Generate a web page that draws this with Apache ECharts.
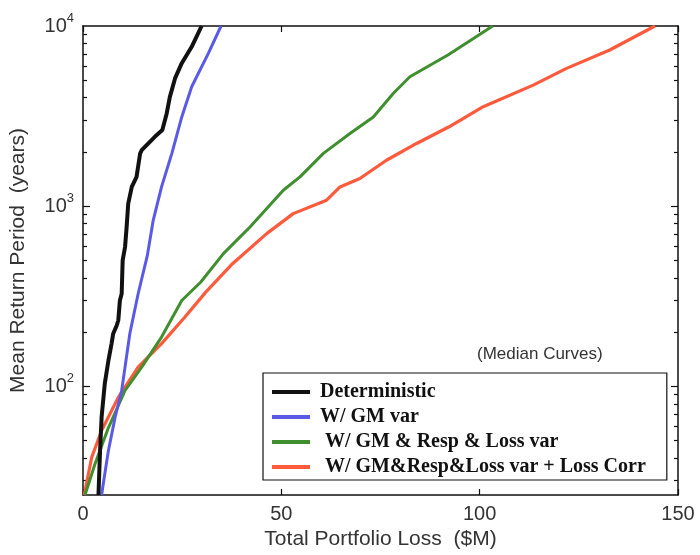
<!DOCTYPE html>
<html><head><meta charset="utf-8">
<script src="https://cdn.jsdelivr.net/npm/echarts@6/dist/echarts.min.js"></script>
<style>html,body{margin:0;padding:0;background:#fff}#c{width:700px;height:555px}</style>
</head><body><div id="c"></div>
<script>
// ---- data ----
const seriesNames = ['Deterministic', 'W/ GM var', ' W/ GM & Resp & Loss var', ' W/ GM&Resp&Loss var + Loss Corr'];

const detX = [3.9, 4.3, 4.7, 5.5, 6.4, 7.2, 7.6, 8.5, 8.9, 9.3, 9.75, 10.0, 10.6, 11.0, 11.4, 12.3, 13.5, 14.4, 14.8, 18.1, 20.0, 21.1, 21.9, 23.2, 24.9, 27.4, 29.9];
const detY = [25, 44, 68, 104, 139, 173, 196, 218, 233, 300, 327, 501, 594, 767, 1035, 1280, 1455, 1960, 2047, 2427, 2645, 3270, 4045, 5118, 6220, 7670, 10000];

const gmX = [4.7, 5.1, 6.4, 8.1, 9.75, 10.6, 11.8, 13.9, 16.2, 17.7, 19.8, 22.4, 24.9, 27.4, 31.6, 34.8];
const gmY = [25, 28.8, 44, 67.6, 95, 128, 196, 327, 530, 836, 1280, 1965, 3130, 4600, 7050, 10000];

const grlX = [0.5, 3.0, 6.4, 10.6, 14.8, 19.8, 24.9, 29.7, 35.4, 42.1, 50.5, 54.7, 60.6, 67.3, 73.2, 78.2, 82.4, 92.0, 103.3];
const grlY = [25, 37, 59, 95, 128, 188, 300, 380, 546, 767, 1227, 1455, 1965, 2535, 3130, 4225, 5225, 6900, 10000];

const corrX = [0.3, 2.2, 4.7, 8.9, 13.9, 19.8, 25.7, 31.0, 37.7, 46.3, 53.0, 61.4, 64.8, 69.8, 76.5, 84.1, 92.3, 100.9, 113.5, 121.9, 132.8, 144.2];
const corrY = [25, 40.5, 57, 87, 128, 173, 243, 335, 480, 705, 910, 1080, 1280, 1425, 1800, 2230, 2760, 3565, 4700, 5820, 7360, 10000];

const xTickLabels = [0, 50, 100, 150];
const yLabelValues = [100, 1000, 10000];
const yMajorTicks = [100, 1000];
const yMinorTicks = [30, 40, 50, 60, 70, 80, 90, 200, 300, 400, 500, 600, 700, 800, 900, 2000, 3000, 4000, 5000, 6000, 7000, 8000, 9000];

function pairs(xs, ys) { return xs.map((x, i) => [x, ys[i]]); }

const AX = '#111';
const LBL = '#333';
const sans = 'Liberation Sans';
const colors = ['#111111', '#5a5ae6', '#3f8f2f', '#ff5a3c'];

function xAxisCfg(pos, showLabel, nameCfg) {
  return Object.assign({
    type: 'value', min: 0, max: 150, interval: 50, position: pos,
    axisLine: { show: true, lineStyle: { color: AX, width: 1.5 } },
    axisTick: { show: true, inside: true, length: 6, lineStyle: { color: AX, width: 1.2 } },
    axisLabel: { show: showLabel, color: LBL, fontFamily: sans, fontSize: 20, margin: 9,
      customValues: xTickLabels },
    splitLine: { show: false }
  }, nameCfg || {});
}
function yAxisCfg(pos, ticks, len, showLine, showLabel, extra) {
  return Object.assign({
    type: 'log', logBase: 10, min: 25, max: 10000, position: pos,
    axisLine: { show: showLine, lineStyle: { color: AX, width: 1.5 } },
    axisTick: { show: true, inside: true, length: len, customValues: ticks, lineStyle: { color: AX, width: 1.2 } },
    axisLabel: { show: showLabel },
    splitLine: { show: false }, minorTick: { show: false }, minorSplitLine: { show: false }
  }, extra || {});
}

const option = {
  animation: false,
  backgroundColor: '#fff',
  grid: { left: 83, right: 22, top: 26, bottom: 60 },
  xAxis: [
    xAxisCfg('bottom', true, {
      name: 'Total Portfolio Loss  ($M)', nameLocation: 'middle', nameGap: 33,
      nameTextStyle: { color: LBL, fontFamily: sans, fontSize: 21 }
    }),
    xAxisCfg('top', false)
  ],
  yAxis: [
    yAxisCfg('left', yMajorTicks, 7, true, true, {
      axisLabel: {
        show: true, customValues: yLabelValues, margin: 9,
        formatter: v => '{b|10}{s|' + Math.round(Math.log10(v)) + '}',
        rich: {
          b: { fontFamily: sans, fontSize: 20, color: LBL },
          s: { fontFamily: sans, fontSize: 13, color: LBL, padding: [0, 0, 16, 0] }
        }
      },
      name: 'Mean Return Period  (years)', nameLocation: 'middle', nameGap: 54,
      nameTextStyle: { color: LBL, fontFamily: sans, fontSize: 21 }
    }),
    yAxisCfg('left', yMinorTicks, 4, false, false),
    yAxisCfg('right', yMajorTicks, 7, true, false),
    yAxisCfg('right', yMinorTicks, 4, false, false)
  ],
  legend: {
    orient: 'vertical', left: 263, top: 373,
    padding: [9, 21, 3, 9], itemGap: 5, itemWidth: 38, itemHeight: 4,
    borderColor: '#111', borderWidth: 1.2, backgroundColor: '#fff',
    textStyle: { fontFamily: 'Liberation Serif', fontWeight: 'bold', fontSize: 20, color: '#111', lineHeight: 20, padding: [0, 0, 0, 5] },
    data: seriesNames.map((n, i) => ({ name: n, icon: 'rect', itemStyle: { color: colors[i] } }))
  },
  graphic: [
    { type: 'text', left: 477, top: 346, style: { text: '(Median Curves)', font: '17px "Liberation Sans"', fill: LBL } }
  ],
  series: [
    { name: seriesNames[0], type: 'line', data: pairs(detX, detY), symbol: 'none', lineStyle: { color: colors[0], width: 4 }, itemStyle: { color: colors[0] }, z: 5 },
    { name: seriesNames[1], type: 'line', data: pairs(gmX, gmY), symbol: 'none', lineStyle: { color: colors[1], width: 3 }, itemStyle: { color: colors[1] }, z: 4 },
    { name: seriesNames[2], type: 'line', data: pairs(grlX, grlY), symbol: 'none', lineStyle: { color: colors[2], width: 3 }, itemStyle: { color: colors[2] }, z: 3 },
    { name: seriesNames[3], type: 'line', data: pairs(corrX, corrY), symbol: 'none', lineStyle: { color: colors[3], width: 3.2 }, itemStyle: { color: colors[3] }, z: 2 }
  ]
};

const chart = echarts.init(document.getElementById('c'), null, { renderer: 'canvas' });
chart.setOption(option);
</script>
</body></html>
